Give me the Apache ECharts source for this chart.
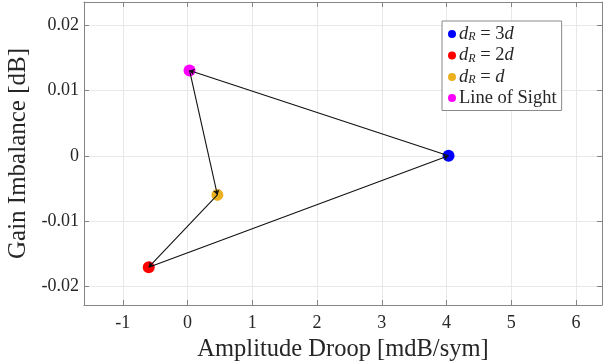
<!DOCTYPE html>
<html>
<head>
<meta charset="utf-8">
<script src="https://cdn.jsdelivr.net/npm/echarts@6/dist/echarts.min.js"></script>
<style>
  html, body { margin: 0; padding: 0; background: #fff; }
  #chart { width: 611px; height: 364px; }
</style>
</head>
<body>
<div id="chart"></div>
<script>
// series (one point each)
const seriesKeys = ['3d', '2d', 'd', 'los']
const seriesColors = ['#0000ff', '#ff0000', '#edb120', '#ff00ff']
const droop = [4.03, -0.60, 0.46, 0.03]
const imbalance = [0, -0.0171, -0.0060, 0.0131]
// arrows between points (from index, to index)
const arrows = [[0, 3], [3, 2], [2, 1], [1, 0]]
// ticks
const xTicks = [-1, 0, 1, 2, 3, 4, 5, 6]
const yTicks = [-0.02, -0.01, 0, 0.01, 0.02]
const yTickLabels = ['-0.02', '-0.01', '0', '0.01', '0.02']

const font = 'Liberation Serif'
const axisGrey = '#858585'
const textColor = '#262626'

const legendLabel = (key) => {
  if (key === 'los') return 'Line of Sight'
  const rhs = key === 'd' ? '{i|d}' : key.slice(0, -1) + '{i|d}'
  return '{i|d}{s|R} = ' + rhs
}

const axisCommon = {
  type: 'value',
  axisLine: { show: true, onZero: false, lineStyle: { color: axisGrey, width: 1 } },
  axisTick: { show: true, inside: true, length: 5, lineStyle: { color: axisGrey } },
  splitLine: { show: false }
}

const chart = echarts.init(document.getElementById('chart'))
chart.setOption({
  animation: false,
  backgroundColor: '#fff',
  grid: { left: 84, right: 9, top: 2, bottom: 59, containLabel: false, outerBoundsMode: 'none' },
  legend: {
    orient: 'vertical',
    left: 442,
    top: 21,
    padding: [3, 5, 3, 6],
    itemGap: 2,
    itemWidth: 8,
    itemHeight: 8,
    backgroundColor: '#fff',
    borderColor: '#8a8a8a',
    borderWidth: 1,
    borderRadius: 0,
    data: seriesKeys.map(k => ({ name: k, icon: 'circle' })),
    formatter: legendLabel,
    textStyle: {
      fontFamily: font,
      fontSize: 18.5,
      lineHeight: 18,
      color: textColor,
      padding: [0, 0, 0, -2],
      rich: {
        i: { fontFamily: font, fontStyle: 'italic', fontSize: 18.5, lineHeight: 18, color: textColor },
        s: { fontFamily: font, fontStyle: 'italic', fontSize: 12, lineHeight: 18, color: textColor, verticalAlign: 'bottom', padding: [7, 0, 0, 0] }
      }
    }
  },
  xAxis: [
    Object.assign({}, axisCommon, {
      min: -1.6,
      max: 6.4,
      position: 'bottom',
      name: 'Amplitude Droop [mdB/sym]',
      nameLocation: 'middle',
      nameGap: 29,
      nameTextStyle: { fontFamily: font, fontSize: 24.5, color: textColor },
      axisTick: Object.assign({}, axisCommon.axisTick, { customValues: xTicks }),
      axisLabel: { customValues: xTicks, margin: 9, fontFamily: font, fontSize: 18, color: textColor },
      splitLine: { show: true, lineStyle: { color: '#e8e8e8', width: 1 } }
    }),
    Object.assign({}, axisCommon, {
      min: -1.6,
      max: 6.4,
      position: 'top',
      axisTick: Object.assign({}, axisCommon.axisTick, { customValues: xTicks }),
      axisLabel: { show: false }
    })
  ],
  yAxis: [
    Object.assign({}, axisCommon, {
      min: -0.0229,
      max: 0.0236,
      position: 'left',
      name: 'Gain Imbalance [dB]',
      nameLocation: 'middle',
      nameGap: 45,
      nameTextStyle: { fontFamily: font, fontSize: 25, color: textColor },
      axisTick: Object.assign({}, axisCommon.axisTick, { customValues: yTicks }),
      axisLabel: {
        customValues: yTicks,
        margin: 5,
        fontFamily: font,
        fontSize: 18,
        color: textColor,
        formatter: (v) => yTickLabels[yTicks.findIndex(t => Math.abs(t - v) < 1e-9)]
      },
      splitLine: { show: true, lineStyle: { color: '#e8e8e8', width: 1 } }
    }),
    Object.assign({}, axisCommon, {
      min: -0.0229,
      max: 0.0236,
      position: 'right',
      axisTick: Object.assign({}, axisCommon.axisTick, { customValues: yTicks }),
      axisLabel: { show: false }
    })
  ],
  series: seriesKeys.map((k, i) => ({
    name: k,
    type: 'scatter',
    symbol: 'circle',
    symbolSize: 12,
    itemStyle: { color: seriesColors[i], opacity: 1 },
    data: [[droop[i], imbalance[i]]],
    z: 2
  })).concat([{
    type: 'lines',
    coordinateSystem: 'cartesian2d',
    symbol: ['none', 'arrow'],
    symbolSize: 5,
    lineStyle: { color: '#111', width: 1.1, opacity: 1 },
    data: arrows.map(([a, b]) => ({
      coords: [[droop[a], imbalance[a]], [droop[b], imbalance[b]]]
    })),
    z: 3
  }])
})
</script>
</body>
</html>
